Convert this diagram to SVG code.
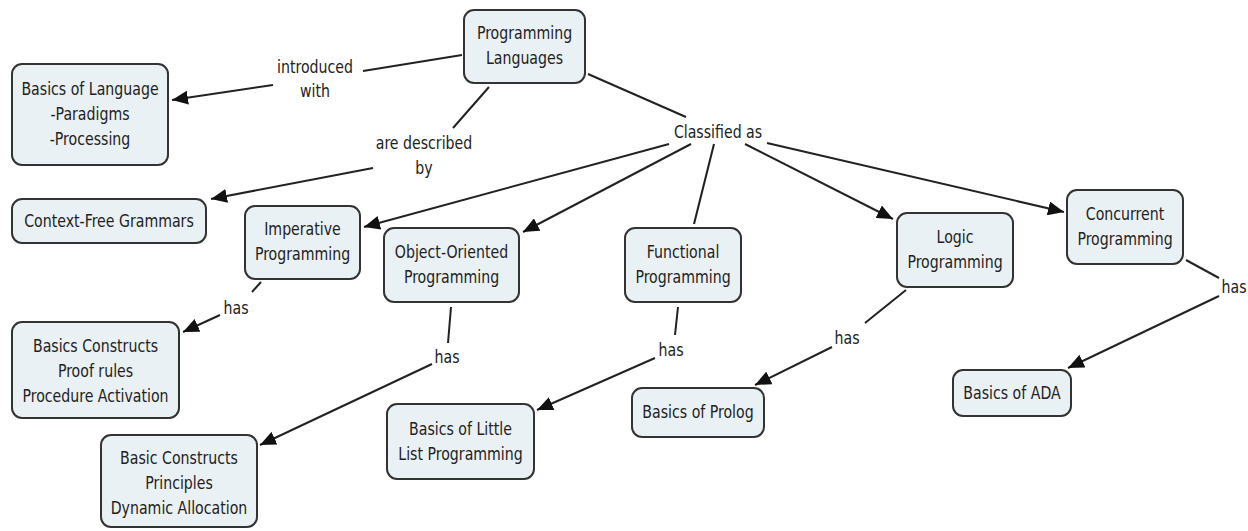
<svg xmlns="http://www.w3.org/2000/svg" width="1248" height="531" viewBox="0 0 1248 531">
<defs>
<style>
.node rect{fill:#eaf1f4;stroke:#333;stroke-width:2}
text{font-family:"DejaVu Sans Condensed","Liberation Sans Narrow","Liberation Sans",sans-serif;font-size:18.5px;fill:#222;text-anchor:middle;dominant-baseline:central}
.conn line{stroke:#222;stroke-width:2}
.arr{marker-end:url(#ah)}
</style>
<marker id="ah" viewBox="0 0 16 14" refX="16" refY="7" markerWidth="16" markerHeight="14" markerUnits="userSpaceOnUse" orient="auto">
<path d="M0,0 L16,7 L0,14 z" fill="#111"/>
</marker>
</defs>
<rect width="1248" height="531" fill="#fff"/>
<g id="connectors" class="conn">
<line x1="462" y1="55" x2="363" y2="71"/>
<line class="arr" x1="273" y1="85" x2="172" y2="100"/>
<line x1="489" y1="87" x2="453" y2="128"/>
<line class="arr" x1="373" y1="168" x2="211" y2="199"/>
<line x1="588" y1="74" x2="686" y2="117"/>
<line class="arr" x1="669" y1="144" x2="364" y2="227"/>
<line class="arr" x1="691" y1="144" x2="523" y2="232"/>
<line x1="714" y1="144" x2="694" y2="224"/>
<line class="arr" x1="745" y1="144" x2="893" y2="219"/>
<line class="arr" x1="767" y1="143" x2="1064" y2="212"/>
<line x1="261" y1="282" x2="252" y2="292"/>
<line class="arr" x1="220" y1="315" x2="183" y2="332"/>
<line x1="451" y1="307" x2="448" y2="343"/>
<line class="arr" x1="432" y1="364" x2="260" y2="445"/>
<line x1="678" y1="307" x2="675" y2="335"/>
<line class="arr" x1="655" y1="358" x2="537" y2="410"/>
<line x1="906" y1="290" x2="865" y2="323"/>
<line class="arr" x1="832" y1="347" x2="755" y2="385"/>
<line x1="1186" y1="260" x2="1219" y2="278"/>
<line class="arr" x1="1219" y1="296" x2="1068" y2="368"/>
</g>
<g id="labels">
<text transform="translate(315,67) scale(0.85,1)">introduced</text>
<text transform="translate(315,91) scale(0.85,1)">with</text>
<text transform="translate(424,143) scale(0.85,1)">are described</text>
<text transform="translate(424,168) scale(0.85,1)">by</text>
<text transform="translate(718,132) scale(0.85,1)">Classified as</text>
<text transform="translate(236,308) scale(0.85,1)">has</text>
<text transform="translate(447,357) scale(0.85,1)">has</text>
<text transform="translate(671,350) scale(0.85,1)">has</text>
<text transform="translate(847,338) scale(0.85,1)">has</text>
<text transform="translate(1234,287) scale(0.85,1)">has</text>
</g>
<g id="n-pl" class="node"><rect x="464" y="10" width="121" height="73" rx="10"/><text transform="translate(524.5,33) scale(0.85,1)">Programming</text><text transform="translate(524.5,58) scale(0.85,1)">Languages</text></g>
<g id="n-basics-lang" class="node"><rect x="12" y="64" width="156" height="101" rx="10"/><text transform="translate(90,89) scale(0.85,1)">Basics of Language</text><text transform="translate(90,114) scale(0.85,1)">-Paradigms</text><text transform="translate(90,139) scale(0.85,1)">-Processing</text></g>
<g id="n-cfg" class="node"><rect x="12" y="199" width="194" height="44" rx="10"/><text transform="translate(109,221) scale(0.85,1)">Context-Free Grammars</text></g>
<g id="n-imp" class="node"><rect x="245" y="206" width="115" height="73" rx="10"/><text transform="translate(302.5,229) scale(0.85,1)">Imperative</text><text transform="translate(302.5,254) scale(0.85,1)">Programming</text></g>
<g id="n-oo" class="node"><rect x="384" y="228" width="135" height="74" rx="10"/><text transform="translate(451.5,252) scale(0.85,1)">Object-Oriented</text><text transform="translate(451.5,277) scale(0.85,1)">Programming</text></g>
<g id="n-func" class="node"><rect x="625" y="228" width="116" height="74" rx="10"/><text transform="translate(683,252) scale(0.85,1)">Functional</text><text transform="translate(683,277) scale(0.85,1)">Programming</text></g>
<g id="n-logic" class="node"><rect x="897" y="213" width="116" height="74" rx="10"/><text transform="translate(955,237) scale(0.85,1)">Logic</text><text transform="translate(955,262) scale(0.85,1)">Programming</text></g>
<g id="n-conc" class="node"><rect x="1067" y="190" width="116" height="74" rx="10"/><text transform="translate(1125,214) scale(0.85,1)">Concurrent</text><text transform="translate(1125,239) scale(0.85,1)">Programming</text></g>
<g id="n-ada" class="node"><rect x="953" y="370" width="118" height="46" rx="10"/><text transform="translate(1012,393) scale(0.85,1)">Basics of ADA</text></g>
<g id="n-prolog" class="node"><rect x="632" y="388" width="132" height="49" rx="10"/><text transform="translate(698,412) scale(0.85,1)">Basics of Prolog</text></g>
<g id="n-list" class="node"><rect x="387" y="404" width="147" height="75" rx="10"/><text transform="translate(460.5,429) scale(0.85,1)">Basics of Little</text><text transform="translate(460.5,454) scale(0.85,1)">List Programming</text></g>
<g id="n-bcpr" class="node"><rect x="12" y="322" width="167" height="96" rx="10"/><text transform="translate(95.5,346) scale(0.85,1)">Basics Constructs</text><text transform="translate(95.5,371) scale(0.85,1)">Proof rules</text><text transform="translate(95.5,396) scale(0.85,1)">Procedure Activation</text></g>
<g id="n-bcpd" class="node"><rect x="101" y="435" width="156" height="92" rx="10"/><text transform="translate(179,458) scale(0.85,1)">Basic Constructs</text><text transform="translate(179,483) scale(0.85,1)">Principles</text><text transform="translate(179,508) scale(0.85,1)">Dynamic Allocation</text></g>
</svg>
